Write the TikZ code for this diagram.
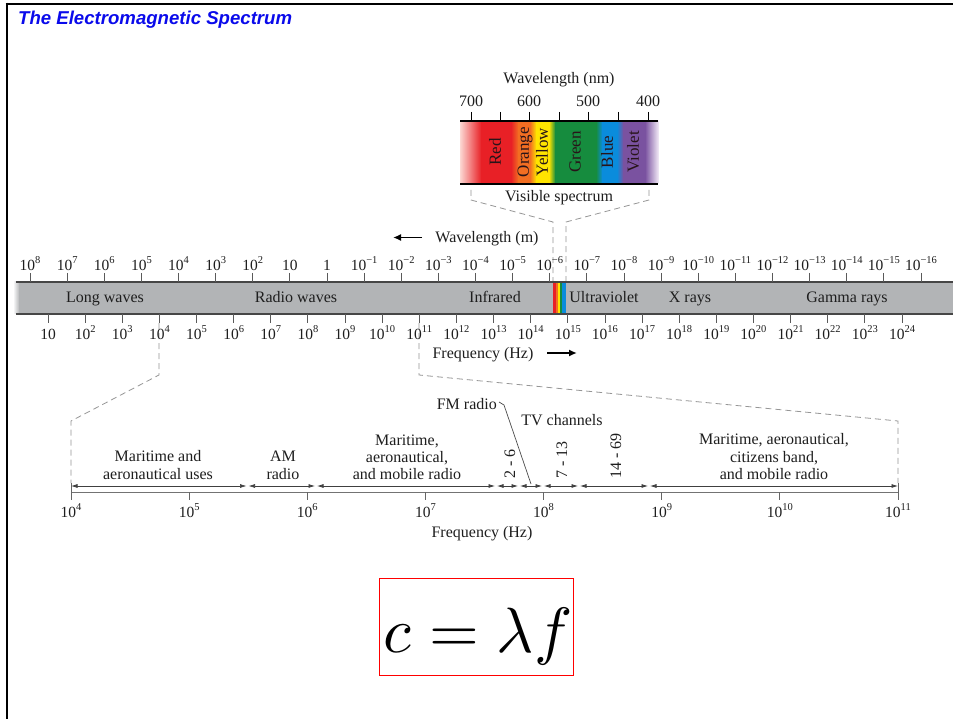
\documentclass[tikz,border=0pt]{standalone}
\usepackage{graphicx}
\usepackage{fontspec}
\setmainfont{Liberation Serif}
\newfontfamily\titlefont{Liberation Sans}
\usetikzlibrary{arrows.meta}
\definecolor{txt}{RGB}{30,30,30}
\definecolor{bandgray}{RGB}{178,180,182}
\definecolor{bandline}{RGB}{70,70,70}
\definecolor{tickc}{RGB}{90,90,90}
\definecolor{dashc}{RGB}{150,150,150}
\definecolor{titleblue}{RGB}{10,10,235}
\definecolor{vred}{RGB}{232,32,38}
\definecolor{vorange}{RGB}{242,110,34}
\definecolor{vyellow}{RGB}{255,228,0}
\definecolor{vgreen}{RGB}{22,140,62}
\definecolor{vblue}{RGB}{10,140,220}
\definecolor{vviolet}{RGB}{122,82,160}
\definecolor{vpink}{RGB}{252,215,210}
\definecolor{vlav}{RGB}{240,232,245}
\definecolor{vtext}{RGB}{40,20,25}
\newcommand\tn[1]{10\raisebox{0.42em}{\fontsize{10.5}{10.5}\selectfont #1}}
\begin{document}
\begin{tikzpicture}[x=1pt,y=-1pt,
  lab/.style={font=\fontsize{16}{16}\selectfont, text=txt, inner sep=0pt, anchor=base, align=center},
  tlab/.style={font=\fontsize{15.5}{15.5}\selectfont, text=txt, inner sep=0pt, anchor=base},
  rlab/.style={font=\fontsize{17}{17}\selectfont, text=vtext, inner sep=0pt, rotate=90, anchor=center},
  tickline/.style={draw=tickc, line width=0.9pt},
  dashl/.style={draw=dashc, line width=0.8pt, dash pattern=on 6pt off 4pt},
  bandarrow/.style={draw=black!75, line width=0.7pt, {Latex[length=6.5pt,width=4pt]}-{Latex[length=6.5pt,width=4pt]}},
  bigarrow/.style={draw=black, line width=1.6pt, -{Latex[length=8pt,width=7pt]}},
]
\useasboundingbox (0,0) rectangle (953,719);
\fill[white] (0,0) rectangle (953,719);
% border
\draw[line width=2.6pt] (5.5,4) -- (953,4);
\draw[line width=2.6pt] (7,2.7) -- (7,719);

% title
\node[anchor=base west, inner sep=0pt, text=titleblue, font=\titlefont\bfseries\itshape\fontsize{18.6}{18.6}\selectfont] (title) at (18,24.5) {The Electromagnetic Spectrum};

% ---------- visible spectrum ----------
\node[lab] (wlnm) at (559,84) {Wavelength (nm)};
\foreach \a/\b/\ca/\cb in {460/481/vpink/vred, 481/511/vred/vred, 511/518/vred/vorange, 518/530/vorange/vorange, 530/536/vorange/vyellow, 536/549/vyellow/vyellow, 549/555/vyellow/vgreen, 555/596/vgreen/vgreen, 596/602/vgreen/vblue, 602/617/vblue/vblue, 617/623/vblue/vviolet, 623/645/vviolet/vviolet, 645/658/vviolet/vlav}
  \shade[left color=\ca, right color=\cb] (\a,121) rectangle (\b+0.4,184);
\draw[black, line width=1.2pt] (460,121) -- (658,121);
\draw[black, line width=1.2pt] (460,184) -- (658,184);
\foreach \x in {471,500,529,559,588,618,648}
  \draw[black, line width=0.9pt] (\x,112) -- (\x,121);
\foreach \x/\t in {471/700, 529/600, 588/500, 648/400}
  \node[lab] (nm\t) at (\x,107) {\t};
\node[rlab] (cred) at (495,152) {Red};
\node[rlab] (corange) at (525,152) {Orange};
\node[rlab] (cyellow) at (542,152) {Yellow};
\node[rlab] (cgreen) at (575,152) {Green};
\node[rlab] (cblue) at (607,152) {Blue};
\node[rlab] (cviolet) at (633,152) {Violet};
\node[lab] (vis) at (559,202) {Visible spectrum};
\draw[dashl] (471,190) -- (471,200) -- (553,222) -- (553,282);
\draw[dashl] (649,190) -- (649,200) -- (566,222) -- (566,282);

% ---------- wavelength arrow ----------
\node[lab] (wlm) at (487,243) {Wavelength (m)};
\draw[bigarrow] (422,237.5) -- (393,237.5);

% ---------- main band ----------
\shade[left color=white, right color=bandgray] (13,282) rectangle (19.5,314);
\fill[bandgray] (19,282) rectangle (953,314);
\draw[bandline, line width=1.5pt] (16,282) -- (953,282);
\draw[bandline, line width=1.5pt] (16,314) -- (953,314);
\fill[vred] (553,282.8) rectangle (555.6,313.2);
\fill[vorange] (555.6,282.8) rectangle (557.6,313.2);
\fill[vyellow] (557.6,282.8) rectangle (559.6,313.2);
\fill[vgreen] (559.6,282.8) rectangle (562.2,313.2);
\fill[vblue] (562.2,282.8) rectangle (565.5,313.2);

\node[lab] (long) at (105,302) {Long waves};
\node[lab] (radio) at (296,302) {Radio waves};
\node[lab] (ir) at (495,302) {Infrared};
\node[lab] (uv) at (604,302) {Ultraviolet};
\node[lab] (xr) at (690,302) {X rays};
\node[lab] (gr) at (847,302) {Gamma rays};

% wavelength ticks
\foreach \lab [count=\k from 0] in {{\tn8},{\tn7},{\tn6},{\tn5},{\tn4},{\tn3},{\tn2},10,1,{\tn{−1}},{\tn{−2}},{\tn{−3}},{\tn{−4}},{\tn{−5}},{\tn{−6}},{\tn{−7}},{\tn{−8}},{\tn{−9}},{\tn{−10}},{\tn{−11}},{\tn{−12}},{\tn{−13}},{\tn{−14}},{\tn{−15}},{\tn{−16}}} {
  \pgfmathsetmacro\xx{30+\k*37.125}
  \draw[tickline] (\xx,273) -- (\xx,282);
  \node[tlab] (wl\k) at (\xx,270.5) {\lab};
}
% frequency ticks
\draw[dashl] (159,323) -- (159,375) -- (71,421) -- (71,483);
\draw[dashl] (419,323) -- (419,375) -- (898,421) -- (898,483);
\foreach \m in {1,...,24} {
  \pgfmathsetmacro\xx{48+(\m-1)*37.13}
  \draw[tickline] (\xx,314) -- (\xx,323);
  \node[tlab] (fq\m) at (\xx,339.5) {\ifnum\m=1 10\else\tn{\m}\fi};
}
\node[lab] (freq) at (483,358) {Frequency (Hz)};
\draw[bigarrow] (547,353) -- (577,353);

% ---------- radio band detail ----------
\draw[draw=black!55, line width=0.9pt] (71,492) -- (898,492);
\draw[draw=black!60, line width=0.9pt] (71,483) -- (71,492);
\draw[draw=black!60, line width=0.9pt] (898,483) -- (898,492);
\foreach \k in {4,...,11} {
  \pgfmathsetmacro\xx{71+(\k-4)*118.14}
  \draw[draw=black!60, line width=0.9pt] (\xx,492) -- (\xx,500);
  \node[tlab] (bf\k) at (\xx,517) {\tn{\k}};
}
\foreach \a/\b in {71/246.5, 248.5/315, 317/495, 497/518, 520/542, 544/578, 580/648, 650/898}
  \draw[bandarrow] (\a,486) -- (\b,486);

\node[lab] (mar1) at (158,461.5) {Maritime and};
\node[lab] (mar1b) at (158,479) {aeronautical uses};
\node[lab] (am1) at (283,461.5) {AM};
\node[lab] (am1b) at (283,479) {radio};
\node[lab] (mar2) at (407,445) {Maritime,};
\node[lab] (mar2b) at (407,462) {aeronautical,};
\node[lab] (mar2c) at (407,479) {and mobile radio};
\node[lab] (tv) at (562,425) {TV channels};
\node[lab, anchor=base east] (fm) at (497,409) {FM radio};
\draw[black!70, line width=0.7pt] (499,402) -- (504,405) -- (531,484);
\node[rlab, text=txt, font=\fontsize{16}{16}\selectfont] (ch1) at (510,464) {2 - 6};
\node[rlab, text=txt, font=\fontsize{16}{16}\selectfont] (ch2) at (562,460) {7 - 13};
\node[rlab, text=txt, font=\fontsize{16}{16}\selectfont] (ch3) at (616,456) {14 - 69};
\node[lab] (mar3) at (774,444) {Maritime, aeronautical,};
\node[lab] (mar3b) at (774,462) {citizens band,};
\node[lab] (mar3c) at (774,479) {and mobile radio};
\node[lab] (freq2) at (482,537) {Frequency (Hz)};

% ---------- formula ----------
\draw[red, line width=0.8pt] (379,578) rectangle (573,675);
\node[inner sep=0pt, anchor=base] (formula) at (478,652) {\scalebox{6.4}{$c = \lambda f$}};
\end{tikzpicture}
\end{document}
